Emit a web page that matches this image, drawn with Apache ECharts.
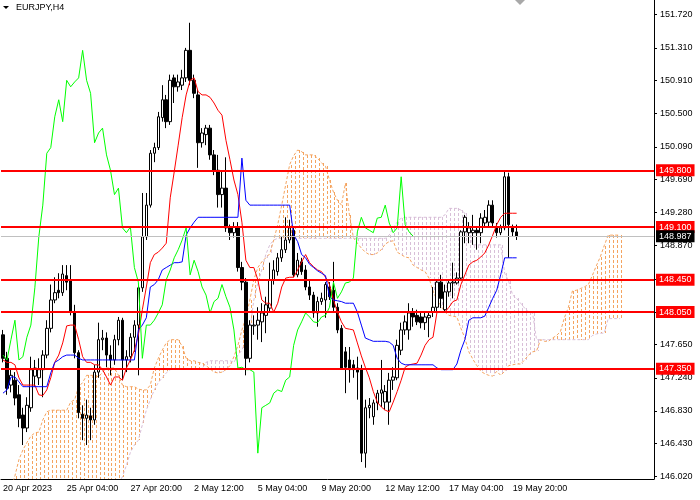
<!DOCTYPE html>
<html><head><meta charset="utf-8">
<script src="https://cdn.jsdelivr.net/npm/echarts@6/dist/echarts.min.js"></script>
<style>html,body{margin:0;padding:0;background:#fff}#c{width:700px;height:500px}</style>
</head><body><div id="c"></div>
<script>
const xLabels = ['20 Apr 2023','25 Apr 04:00','27 Apr 20:00','2 May 12:00','5 May 04:00','9 May 20:00','12 May 12:00','17 May 04:00','19 May 20:00'];
const yTicks = [146.02,146.43,146.83,147.24,147.65,148.05,148.46,148.87,149.28,149.69,150.09,150.50,150.91,151.31,151.72];
const yLabelTicks = [146.02,146.43,146.83,147.24,147.65,148.87,149.28,149.69,150.09,150.50,150.91,151.31,151.72];
const levels = [149.80,149.10,148.45,148.05,147.35];
const lastPrice = 148.987;
// [open, close, low, high]
const candles = [
[147.77,147.48,147.43,147.83],[147.48,147.11,147.03,147.56],[147.15,147.27,147.06,147.36],[147.21,146.99,146.90,147.31],[147.03,146.74,146.63,147.15],[146.78,146.62,146.41,146.87],[146.62,146.90,146.57,147.00],[146.87,147.34,146.82,147.50],[147.26,147.36,147.13,147.46],[147.24,147.34,147.15,147.48],
[147.34,147.52,147.00,147.58],[147.52,147.85,147.48,147.95],[147.85,148.20,147.80,148.39],[148.20,148.29,148.16,148.48],[148.32,148.29,148.22,148.53],[148.29,148.52,148.25,148.63],[148.50,148.42,148.32,148.63],[148.45,148.05,148.01,148.63],[148.05,147.55,147.48,148.14],[147.55,146.81,146.74,147.58],
[146.79,146.74,146.47,146.90],[146.74,146.78,146.41,146.97],[146.77,146.72,146.47,146.87],[146.72,147.31,146.66,147.40],[147.31,147.71,147.24,147.92],[147.71,147.73,147.58,147.83],[147.73,147.52,147.37,147.80],[147.52,147.46,147.27,147.64],[147.46,147.71,147.40,147.77],[147.71,147.95,147.64,147.99],
[147.95,147.46,147.21,147.98],[147.46,147.50,147.31,147.58],[147.50,147.74,147.43,147.79],[147.74,147.89,147.56,147.95],[147.89,148.35,147.27,148.39],[148.35,148.98,148.30,149.52],[148.98,149.37,148.94,149.52],[149.37,150.01,149.34,150.05],[150.01,150.08,149.90,150.14],[150.08,150.46,150.05,150.52],
[150.45,150.67,150.40,150.85],[150.67,150.40,150.32,150.73],[150.40,150.91,150.36,150.98],[150.94,150.83,150.63,150.98],[150.83,150.89,150.77,150.98],[150.85,150.94,150.79,151.04],[150.94,151.28,150.89,151.31],[151.28,150.91,150.85,151.62],[150.91,150.75,150.69,150.98],[150.73,150.14,149.83,150.79],
[150.14,150.26,150.08,150.32],[150.24,150.32,150.11,150.36],[150.32,149.99,149.93,150.36],[149.99,149.80,149.74,150.05],[149.80,149.50,149.34,149.99],[149.50,149.58,149.34,149.78],[149.58,149.09,149.04,149.96],[149.09,149.03,148.94,149.13],[149.03,149.10,148.97,149.16],[149.10,148.60,148.55,149.16],
[148.60,148.42,148.32,148.67],[148.42,147.48,147.27,148.47],[147.48,147.89,147.43,147.95],[147.88,147.89,147.77,148.01],[147.89,147.95,147.71,148.11],[147.93,148.04,147.68,148.16],[148.01,148.14,147.79,148.24],[148.10,148.45,148.05,148.66],[148.45,148.57,148.39,148.69],[148.55,148.72,148.50,148.78],
[148.72,148.82,148.67,148.98],[148.82,148.94,148.78,149.22],[148.94,149.09,148.90,149.19],[149.06,148.51,148.48,149.11],[148.51,148.69,148.48,148.78],[148.67,148.55,148.51,148.72],[148.57,148.36,148.32,148.63],[148.36,148.26,148.20,148.45],[148.26,148.04,147.98,148.30],[148.04,148.18,147.87,148.24],
[148.18,148.22,148.14,148.29],[148.20,148.39,147.98,148.42],[148.36,148.24,148.20,148.42],[148.32,148.11,148.04,148.67],[148.11,147.83,147.79,148.16],[147.85,147.36,147.34,147.89],[147.56,147.37,147.05,147.62],[147.46,147.34,147.18,147.62],[147.40,147.34,147.24,147.46],[147.36,147.31,146.97,147.50],
[147.34,146.31,146.20,147.40],[146.31,146.87,146.13,146.97],[146.87,146.90,146.74,146.99],[146.76,146.93,146.66,146.97],[146.93,147.05,146.84,147.09],[147.05,147.09,146.88,147.46],[146.94,147.07,146.84,147.15],[146.94,147.21,146.66,147.30],[147.21,147.25,147.09,147.37],[147.24,147.64,147.21,147.71],
[147.58,147.83,147.52,147.92],[147.83,147.93,147.77,148.01],[147.83,148.04,147.71,148.16],[148.04,147.99,147.87,148.10],[148.01,147.93,147.89,148.08],[147.99,147.92,147.85,148.05],[147.92,147.99,147.83,148.05],[147.98,148.01,147.74,148.05],[148.05,148.11,147.99,148.36],[148.11,148.42,148.05,148.45],
[148.42,148.22,148.10,148.51],[148.08,148.30,148.05,148.39],[148.30,148.41,148.24,148.45],[148.41,148.42,148.22,148.66],[148.41,148.47,148.39,148.54],[148.47,149.04,148.45,149.06],[149.04,149.22,148.90,149.25],[149.03,149.09,148.90,149.16],[149.03,149.06,148.88,149.25],[149.06,149.03,148.82,149.10],
[149.03,149.21,148.90,149.27],[149.15,149.22,149.09,149.31],[149.16,149.37,149.10,149.43],[149.37,149.15,149.10,149.43],[149.09,149.03,148.97,149.15],[149.03,149.09,149.00,149.13],[149.09,149.72,149.06,149.78],[149.72,149.13,148.72,149.77],[149.10,149.04,148.98,149.13],[149.04,148.987,148.94,149.13]
];
const tenkan = [
147.46,147.43,147.43,147.40,147.24,147.15,147.15,147.15,147.15,147.03,
147.02,147.09,147.24,147.43,147.52,147.67,147.88,147.89,147.89,147.71,
147.50,147.43,147.43,147.40,147.40,147.34,147.25,147.15,147.25,147.25,
147.21,147.36,147.46,147.58,147.77,148.08,148.36,148.66,148.76,148.79,
148.84,148.90,149.46,149.78,150.11,150.45,150.73,150.91,150.94,150.77,
150.73,150.73,150.70,150.63,150.54,150.48,150.17,149.93,149.68,149.50,
149.16,148.69,148.60,148.60,148.45,148.20,148.16,148.16,148.05,148.16,
148.36,148.47,148.48,148.48,148.57,148.67,148.76,148.66,148.61,148.57,
148.55,148.48,148.39,148.20,148.05,147.93,147.85,147.84,147.83,147.67,
147.51,147.37,147.24,147.07,146.94,146.88,146.84,146.82,146.94,147.07,
147.21,147.37,147.40,147.41,147.42,147.52,147.64,147.71,147.74,148.05,
148.05,148.05,148.11,148.18,148.20,148.39,148.51,148.63,148.67,148.69,
148.73,148.78,148.88,149.00,149.13,149.22,149.27,149.27,149.27,149.27];
const kijun = [
147.05,147.09,147.25,147.25,147.19,147.13,147.13,147.13,147.13,147.13,
147.13,147.13,147.30,147.43,147.46,147.50,147.52,147.52,147.52,147.48,
147.46,147.46,147.46,147.46,147.46,147.46,147.46,147.46,147.46,147.46,
147.46,147.46,147.46,147.46,147.83,147.89,147.98,148.36,148.39,148.45,
148.57,148.60,148.63,148.66,148.66,148.67,149.00,149.09,149.16,149.22,
149.22,149.22,149.22,149.22,149.22,149.22,149.22,149.22,149.22,149.22,
149.95,149.43,149.37,149.37,149.37,149.37,149.37,149.37,149.37,149.37,
149.37,149.37,149.37,149.00,148.92,148.76,148.72,148.64,148.60,148.56,
148.53,148.50,148.24,148.20,148.19,148.18,148.16,148.16,148.16,148.05,
147.89,147.73,147.71,147.69,147.69,147.69,147.69,147.68,147.64,147.48,
147.42,147.40,147.40,147.40,147.40,147.40,147.40,147.40,147.40,147.36,
147.34,147.34,147.34,147.34,147.41,147.58,147.71,147.95,147.98,147.98,
147.98,148.00,148.11,148.22,148.32,148.51,148.72,148.72,148.72,148.72];
const spanA = [
145.55,145.73,145.88,146.03,146.23,146.35,146.44,146.52,146.56,146.57,
146.72,146.82,146.84,146.84,146.84,146.84,146.84,146.94,146.97,147.13,
147.18,147.27,147.27,147.27,147.25,147.31,147.36,147.36,147.36,147.27,
147.15,147.13,147.13,147.13,147.10,147.09,147.09,147.15,147.36,147.48,
147.58,147.67,147.71,147.71,147.71,147.63,147.48,147.45,147.45,147.43,
147.42,147.39,147.35,147.31,147.30,147.31,147.34,147.39,147.50,147.64,
147.83,147.98,148.20,148.45,148.60,148.67,148.72,148.77,148.94,149.13,
149.37,149.62,149.87,149.98,150.05,150.03,149.99,149.99,149.99,149.95,
149.89,149.85,149.68,149.53,149.43,149.37,149.64,149.25,148.97,148.90,
148.84,148.79,148.76,148.76,148.78,148.82,148.89,148.92,148.93,148.79,
148.76,148.73,148.72,148.63,148.60,148.57,148.55,148.47,148.31,148.20,
148.13,148.05,148.01,148.00,147.99,147.85,147.73,147.56,147.47,147.39,
147.32,147.29,147.27,147.26,147.32,147.27,147.32,147.39,147.40,147.41,
147.41,147.46,147.52,147.56,147.57,147.71,147.69,147.69,147.73,147.76,
147.81,147.98,148.11,148.31,148.32,148.34,148.36,148.39,148.50,148.62,
148.73,148.87,149.00,149.00,149.00,149.00];
const spanB = [
145.49,145.49,145.49,145.49,145.49,145.49,145.49,145.49,145.49,145.49,
145.49,145.49,145.49,145.49,145.49,145.49,145.49,145.49,145.49,145.49,
145.49,145.49,145.49,145.49,145.49,145.49,145.49,145.49,145.73,145.92,
146.02,146.16,146.32,146.41,146.47,146.66,146.84,146.97,147.09,147.18,
147.24,147.30,147.34,147.35,147.35,147.35,147.35,147.35,147.35,147.35,
147.35,147.43,147.45,147.45,147.45,147.45,147.45,147.45,147.43,147.52,
147.58,147.71,147.83,148.20,148.41,148.57,148.76,148.88,148.94,148.96,
148.96,148.96,148.96,148.96,148.96,148.96,148.96,148.96,148.96,148.96,
148.96,148.96,148.96,148.96,148.96,148.96,148.96,148.96,148.96,148.96,
148.96,148.96,148.96,148.96,148.96,148.96,148.96,149.00,149.09,149.16,
149.21,149.22,149.22,149.22,149.22,149.22,149.22,149.22,149.22,149.22,
149.22,149.25,149.33,149.33,149.33,149.31,149.27,149.06,148.88,148.88,
148.88,148.88,148.88,148.88,148.88,148.88,148.53,148.43,148.26,148.22,
148.16,148.10,148.05,148.04,147.71,147.71,147.71,147.71,147.71,147.71,
147.71,147.71,147.71,147.71,147.71,147.71,147.71,147.71,147.76,147.78,
147.79,147.79,147.97,147.97,147.97,147.97];
const SHIFT = 26;
const NCAT = 164;

const cats = [];
for (let i = 0; i < NCAT; i++) cats.push(String(i));
const chikou = candles.slice(SHIFT).map(c => c[1]);
const cloud = spanA.map((a, i) => [i, a, spanB[i]]);
const FONT = '"Liberation Sans", Arial, sans-serif';
const showIdx = i => i % 16 === 0 && i / 16 < xLabels.length;
const BULL = '#F4A460', BEAR = '#D8BFD8';

const chart = echarts.init(document.getElementById('c'));
const lvlLabel = bg => ({show:true, position:'end', distance:2, color:'#fff', backgroundColor:bg,
  padding:[2,3,1,3], fontFamily:FONT, fontSize:9, formatter: p => Number(p.value).toFixed(3)});
chart.setOption({
  animation:false,
  backgroundColor:'#fff',
  grid:{left:-2, right:46, top:0, bottom:21},
  xAxis:{type:'category', data:cats, boundaryGap:true,
    axisLine:{lineStyle:{color:'#000', width:1}},
    axisTick:{alignWithLabel:true, length:3, interval:(i)=>showIdx(i), lineStyle:{color:'#000'}},
    axisLabel:{interval:(i)=>showIdx(i), formatter:(v,i)=>xLabels[i/16]||'', align:'left', margin:5,
      color:'#000', fontFamily:FONT, fontSize:9},
    splitLine:{show:false}},
  yAxis:{type:'value', position:'right', min:145.991, max:151.901,
    axisLine:{show:true, lineStyle:{color:'#000'}},
    axisTick:{show:true, length:3, customValues:yTicks, lineStyle:{color:'#000'}},
    axisLabel:{customValues:yLabelTicks, formatter:v=>v.toFixed(3), margin:6, color:'#000', fontFamily:FONT, fontSize:9},
    splitLine:{show:false}},
  graphic:[
    {type:'polygon', shape:{points:[[3,6],[9,6],[6,9]]}, style:{fill:'#000'}},
    {type:'text', left:16, top:3, style:{text:'EURJPY,H4', fill:'#000', font:'9px "Liberation Sans", Arial'}},
    {type:'polygon', shape:{points:[[515,0],[525,0],[520,5]]}, style:{fill:'#A8A8A8'}}
  ],
  series:[
    {type:'custom', data:cloud, z:1, clip:false, silent:true,
      encode:{x:0, y:[1,2]},
      renderItem:(params, api) => {
        const k = params.dataIndex;
        const a = spanA[k], b = spanB[k];
        const cs = params.coordSys;
        const top = cs.y, bot = cs.y + cs.height;
        const p = api.coord([k, a]), q = api.coord([k, b]);
        const yTop = Math.round(Math.max(top, Math.min(p[1], q[1])));
        const yBot = Math.round(Math.min(bot, Math.max(p[1], q[1])));
        if (yBot - yTop < 1) return null;
        const x = Math.round(p[0]) + 1;
        const fill = a >= b ? BULL : BEAR;
        const children = [];
        for (let y = yTop; y < yBot; y += 5) {
          children.push({type:'rect', shape:{x:x, y:y, width:1, height:Math.min(3, yBot - y)},
            style:{fill:fill}});
        }
        return {type:'group', children:children};
      }},
    {type:'line', data:spanA, symbol:'none', z:2, lineStyle:{color:BULL, width:1, type:[3,2]}},
    {type:'line', data:spanB, symbol:'none', z:2, lineStyle:{color:BEAR, width:1, type:[3,2]}},
    {type:'candlestick', data:candles, barWidth:3, z:3,
      itemStyle:{color:'#fff', color0:'#000', borderColor:'#000', borderColor0:'#000', borderWidth:1}},
    {type:'line', data:tenkan, symbol:'none', z:4, lineStyle:{color:'#FF0000', width:1}},
    {type:'line', data:kijun, symbol:'none', z:4, lineStyle:{color:'#0000FF', width:1}},
    {type:'line', data:chikou, symbol:'none', z:4, lineStyle:{color:'#00FF00', width:1}},
    {type:'line', data:[], z:10, markLine:{symbol:'none', silent:true, precision:3, animation:false,
      data: levels.map(v => ({yAxis:v, lineStyle:{color:'#FF0000', width:2, type:'solid'}, label:lvlLabel('#FF0000')}))
        .concat([{yAxis:lastPrice, lineStyle:{color:'#C0C0C0', width:1, type:'solid'}, label:lvlLabel('#000000')}])}}
  ]
});
</script></body></html>
